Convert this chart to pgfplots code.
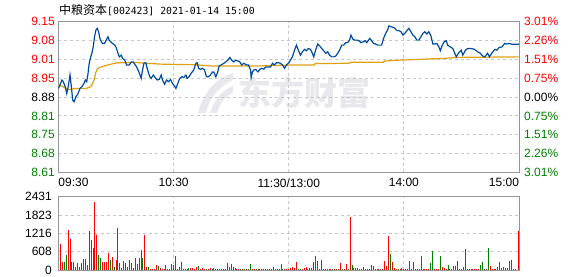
\documentclass[border=0pt]{standalone}
\usepackage{fontspec}
\setmainfont{Liberation Sans}
\newfontfamily\cjk{Noto Sans CJK SC}
\newfontfamily\mono{DejaVu Sans Mono}
\usepackage{pgfplots}
\pgfplotsset{compat=1.18}
\definecolor{pred}{RGB}{255,0,0}
\definecolor{pgreen}{RGB}{0,128,0}
\definecolor{pblue}{RGB}{0,75,160}
\definecolor{porange}{RGB}{225,160,20}
\definecolor{spine}{RGB}{150,150,150}
\definecolor{gridc}{RGB}{200,200,200}
\definecolor{wm}{RGB}{232,232,236}
\pgfplotsset{
  base/.style={scale only axis, anchor=south west, width=460.5pt,
    xmin=0, xmax=240,
    axis line style={spine, line width=1pt},
    tick style={draw=none},
    major tick length=0pt,
    tick label style={font=\fontsize{12}{14}\selectfont},
    /pgf/number format/assume math mode=true,
    major grid style={gridc, dash pattern=on 3pt off 3pt, line width=0.8pt},
  }
}
\begin{document}
\begin{tikzpicture}[x=1pt,y=1pt]
\useasboundingbox (0,0) rectangle (578,276);
% watermark
\fill[wm] (198,163) .. controls (203,182) and (214,197) .. (233,203) -- (233,196) .. controls (219,190) and (209,178) .. (206,163) -- cycle;
\fill[wm] (210,163) .. controls (214,176) and (222,186) .. (233,190) -- (233,183) .. controls (225,180) and (219,172) .. (217,163) -- cycle;
\node[anchor=west, inner sep=0pt, text=wm, font=\cjk\bfseries\fontsize{33}{33}\selectfont] at (238,183) {东方财富};
% title
\node[anchor=west, inner sep=0pt] at (59,266) {\cjk\fontsize{12}{14}\selectfont 中粮资本\mono\fontsize{9.8}{12}\selectfont[002423] 2021-01-14 15:00};

\begin{axis}[base, at={(58.5pt,103.6pt)}, height=150.7pt,
  ymin=8.61, ymax=9.15,
  xtick={0,60,120,180,240},
  xticklabels={\makebox[0pt][l]{09:30},10:30,11:30/13:00,14:00,\makebox[0pt][r]{15:00}},
  xticklabel style={anchor=north, inner sep=0pt, yshift=-6pt},
  ytick={8.61,8.6775,8.745,8.8125,8.88,8.9475,9.015,9.0825,9.15},
  yticklabels={\textcolor{pgreen}{8.61},\textcolor{pgreen}{8.68},\textcolor{pgreen}{8.75},\textcolor{pgreen}{8.81},8.88,\textcolor{pred}{8.95},\textcolor{pred}{9.01},\textcolor{pred}{9.08},\textcolor{pred}{9.15}},
  yticklabel style={anchor=east, inner sep=0pt, xshift=-3.5pt},
  grid=major,
]
\addplot[porange, line width=1.2pt] coordinates {
(0,8.923)(1.8,8.919)(3.9,8.911)(5.6,8.907)(9.1,8.911)(12.2,8.911)(14.3,8.911)(15.4,8.913)(16.8,8.917)(17.8,8.929)(18.8,8.947)(19.5,8.970)(20.6,8.983)(22.3,8.988)(24.0,8.992)(25.8,8.995)(27.5,8.998)(29.3,9.001)(31.0,9.003)(32.7,9.003)(40.0,9.004)(46.2,9.001)(53.2,8.998)(60.1,8.997)(70.5,8.996)(80.9,8.991)(99.7,8.991)(107.7,8.992)(121.6,8.995)(133.5,8.995)(133.7,9.000)(151.7,9.001)(152.1,9.005)(161.1,9.005)(169.4,9.005)(169.8,9.009)(176.7,9.012)(188.0,9.015)(202.1,9.019)(207.3,9.022)(240,9.024)
};
\addplot[pblue, line width=1.2pt] coordinates {
(0,8.911)(1.8,8.941)(2.5,8.935)(3.5,8.917)(4.3,8.893)(4.9,8.911)(6.0,8.959)(6.7,8.917)(7.4,8.869)(8.1,8.863)(9.1,8.881)(10.2,8.893)(11.2,8.911)(12.2,8.917)(13.3,8.929)(14.0,8.941)(14.7,8.935)(15.4,8.965)(16.0,9.001)(16.8,9.024)(17.4,9.037)(18.1,9.060)(18.8,9.096)(19.5,9.120)(20.2,9.126)(20.9,9.114)(21.6,9.090)(22.3,9.078)(23.0,9.072)(24.0,9.072)(24.7,9.082)(25.8,9.096)(26.4,9.084)(27.2,9.078)(28.2,9.072)(29.3,9.066)(29.9,9.060)(31.0,9.037)(31.7,9.024)(32.7,9.030)(33.4,9.019)(34.5,9.012)(35.5,8.995)(36.9,8.995)(37.9,9.006)(38.9,9.006)(40.0,8.995)
(40.7,8.988)(41.9,8.970)(43.1,8.947)(43.8,8.977)(44.5,9.001)(45.5,9.003)(46.2,8.983)(47.0,8.965)(47.6,8.953)(48.3,8.947)(49.4,8.959)(50.4,8.950)(51.4,8.941)(52.5,8.943)(53.5,8.959)(54.2,8.941)(55.3,8.926)(56.3,8.941)(57.4,8.935)(58.4,8.943)(59.4,8.929)(60.5,8.919)(61.2,8.911)(62.2,8.929)(63.2,8.947)(64.3,8.953)(65.3,8.950)(66.4,8.959)(67.0,8.947)(68.1,8.953)(69.1,8.965)(70.5,8.977)(71.6,9.001)(72.3,9.003)(73.0,8.983)(74.0,8.979)(75.1,8.983)(76.1,8.977)(77.1,8.953)(78.2,8.953)(79.2,8.959)(80.3,8.970)
(80.9,8.970)(82.0,8.953)(83.0,8.970)(83.7,8.991)(84.7,8.995)(86.2,9.001)(87.2,9.006)(88.2,9.012)(89.3,9.022)(90.3,9.012)(91.4,9.006)(92.4,9.012)(93.4,9.010)(94.5,9.006)(95.5,8.995)(96.6,9.001)(98.0,8.995)(99.0,8.995)(100.1,8.977)(100.4,8.950)(101.1,8.970)(101.8,8.977)(102.8,8.979)(103.9,8.970)(104.9,8.979)(105.9,8.983)(107.0,8.980)(108.0,8.988)(109.4,8.988)(110.5,8.988)(111.5,9.001)(112.5,8.995)(113.6,9.003)(114.6,9.003)(115.7,9.001)(116.7,8.995)(117.8,8.983)(118.8,8.995)(120.1,9.003)
(121.9,9.024)(123.0,9.048)(124.0,9.066)(125.0,9.048)(126.1,9.030)(127.1,9.042)(128.2,9.051)(129.2,9.046)(130.2,9.054)(131.3,9.051)(132.3,9.037)(133.0,9.024)(134.0,9.048)(135.1,9.070)(136.1,9.063)(137.2,9.054)(138.2,9.046)(139.3,9.037)(140.3,9.042)(141.3,9.030)(142.4,9.024)(143.4,9.024)(144.5,9.027)(145.5,9.037)(146.5,9.048)(147.6,9.066)(148.6,9.066)(149.7,9.075)(150.7,9.075)(151.7,9.084)(152.4,9.102)(153.5,9.087)(154.5,9.084)(155.5,9.084)(156.6,9.082)(157.6,9.075)(158.7,9.078)(159.7,9.082)(160.7,9.075)
(162.2,9.090)(163.2,9.082)(164.2,9.072)(165.3,9.070)(166.3,9.066)(167.3,9.066)(168.4,9.066)(169.4,9.090)(170.5,9.108)(171.5,9.120)(172.2,9.135)(173.2,9.132)(174.3,9.130)(175.3,9.126)(176.4,9.118)(177.4,9.118)(178.5,9.114)(179.5,9.102)(180.5,9.108)(181.6,9.118)(182.6,9.126)(183.7,9.114)(184.7,9.102)(185.7,9.096)(186.8,9.084)(187.8,9.084)(188.9,9.096)(189.9,9.108)(190.9,9.114)(192.0,9.106)(193.0,9.114)(194.1,9.099)(195.1,9.070)(196.1,9.070)(197.2,9.072)(198.2,9.060)(199.0,9.046)(200.0,9.066)(201.0,9.078)(202.1,9.082)(202.8,9.066)
(205.5,9.054)(207.3,9.024)(208.6,9.039)(209.9,9.048)(210.7,9.030)(212.1,9.048)(213.3,9.054)(215.1,9.054)(216.8,9.051)(218.5,9.042)(219.8,9.037)(221.1,9.027)(222.2,9.024)(223.6,9.037)(224.6,9.024)(226.0,9.039)(227.4,9.051)(228.4,9.048)(229.8,9.058)(231.2,9.060)(232.5,9.072)(233.6,9.070)(235.0,9.072)(236.4,9.069)(240,9.069)
};
\end{axis}

\begin{axis}[base, at={(58.5pt,103.6pt)}, height=150.7pt,
  ymin=0, ymax=8, ytick={0,1,2,3,4,5,6,7,8},
  axis y line*=right, axis x line=none,
  y axis line style={draw=none},
  yticklabels={\textcolor{pgreen}{3.01\%},\textcolor{pgreen}{2.26\%},\textcolor{pgreen}{1.51\%},\textcolor{pgreen}{0.75\%},0.00\%,\textcolor{pred}{0.75\%},\textcolor{pred}{1.51\%},\textcolor{pred}{2.26\%},\textcolor{pred}{3.01\%}},
  yticklabel style={anchor=west, inner sep=0pt, xshift=5pt},
]
\addplot[draw=none] coordinates {(0,0)};
\end{axis}

\begin{axis}[base, at={(58.5pt,6pt)}, height=73.3pt,
  ymin=0, ymax=2431,
  ytick={0,608,1216,1823,2431},
  yticklabels={0,608,1216,1823,2431},
  yticklabel style={anchor=east, inner sep=0pt, xshift=-6.5pt},
  xtick={60,120,180}, xticklabels={},
  ymajorgrids, xmajorgrids,
]
\addplot[ycomb, pred, line width=1pt, mark=none] coordinates {
(1,863)(2,277)(5,1328)(6,1030)(9,111)(10,244)(11,111)(13,376)(14,354)(16,1295)(17,996)(18,730)(19,2258)(20,1162)(23,277)(24,277)(25,277)(26,553)(28,443)(30,332)(32,221)(33,55)(37,332)(38,221)(41,199)(45,1162)(46,89)(48,33)(49,33)(50,33)(51,166)(53,55)(54,33)(55,33)(57,33)(58,33)(62,33)(63,89)(64,277)(65,33)(66,33)(67,33)(69,55)(70,55)(71,33)(72,89)(74,33)(75,55)(76,33)(78,33)(79,55)(82,33)(84,33)(85,33)(86,33)(89,89)(90,188)(92,55)(93,33)(94,33)(96,33)(98,33)(101,33)(102,33)(104,33)(105,33)(107,33)(109,33)(110,33)(113,33)(115,33)(116,199)(118,33)(119,33)(120,33)(121,55)(122,89)(123,55)(124,277)(127,33)(128,55)(129,89)(131,66)(132,66)(134,465)(135,299)(139,33)(140,33)(142,33)(144,33)(146,33)(147,221)(149,33)(150,199)(152,1749)(154,66)(155,66)(156,66)(157,33)(158,33)(159,89)(160,33)(161,33)(162,33)(166,33)(167,33)(169,33)(170,299)(171,133)(172,1129)(174,266)(175,55)(176,33)(178,33)(180,33)(181,33)(182,33)(183,299)(184,33)(186,33)(187,33)(188,33)(189,465)(190,33)(191,33)(192,33)(193,33)(196,33)(197,33)(198,33)(200,89)(201,66)(202,33)(204,33)(205,33)(207,133)(209,33)(210,33)(211,89)(213,33)(214,33)(216,33)(217,33)(218,33)(219,33)(223,33)(225,133)(226,33)(227,33)(228,33)(230,266)(231,66)(232,89)(234,66)(235,299)(236,332)(238,33)(239.6,1295)
};
\addplot[ycomb, pgreen, line width=1pt, mark=none] coordinates {
(3,277)(4,498)(7,277)(8,277)(12,221)(15,166)(21,498)(22,387)(27,332)(29,111)(31,1395)(34,299)(35,244)(36,111)(39,55)(40,387)(42,387)(43,664)(44,387)(47,89)(52,133)(56,166)(59,199)(60,166)(61,465)(68,55)(73,133)(77,33)(80,33)(81,55)(83,33)(87,33)(88,221)(91,89)(95,33)(97,33)(99,33)(100,199)(103,33)(106,33)(108,33)(111,33)(112,89)(114,33)(117,33)(125,33)(126,33)(130,33)(133,266)(136,33)(137,332)(138,33)(141,44)(143,33)(145,33)(148,33)(151,33)(153,155)(163,166)(164,133)(165,33)(168,33)(173,531)(177,33)(179,55)(185,266)(194,221)(195,642)(199,465)(203,166)(206,133)(208,299)(212,697)(215,33)(220,166)(221,266)(222,33)(224,730)(229,89)(233,66)(237,33)
};
\end{axis}
\end{tikzpicture}
\end{document}
